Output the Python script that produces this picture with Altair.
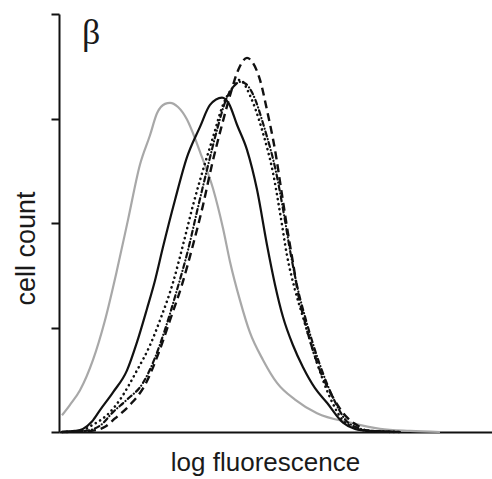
import altair as alt
import pandas as pd

# Histogram series (x = fluorescence channel, y = cell count)
gray_x = [3, 11, 21, 34, 46, 58, 69, 81, 91, 98, 106, 111, 119, 128, 136, 141, 154, 164, 171, 181, 191, 204, 218, 236, 258, 291, 321, 351, 381]
gray_y = [16, 26, 40, 69, 107, 155, 203, 256, 284, 305, 314, 315, 311, 299, 281, 268, 233, 195, 163, 126, 95, 69, 47, 31, 18, 9, 3, 1, 0]

solid_x = [3, 16, 24, 33, 41, 54, 68, 78, 88, 96, 104, 116, 128, 141, 151, 163, 170, 178, 188, 198, 208, 216, 224, 234, 244, 256, 268, 284, 296, 311, 341]
solid_y = [0, 1, 3, 10, 21, 38, 59, 86, 118, 145, 177, 222, 263, 292, 313, 320, 314, 294, 270, 232, 179, 141, 110, 83, 62, 42, 28, 9, 3, 1, 0]

dotted_x = [3, 21, 34, 41, 51, 61, 78, 91, 101, 114, 124, 134, 141, 154, 164, 174, 181, 191, 204, 214, 221, 228, 236, 244, 258, 271, 284, 296, 311, 341]
dotted_y = [0, 1, 7, 11, 19, 31, 59, 83, 107, 143, 179, 217, 241, 282, 313, 330, 337, 322, 286, 248, 210, 169, 136, 110, 66, 33, 11, 4, 1, 0]

dashdot_x = [3, 26, 41, 54, 68, 84, 96, 106, 118, 129, 138, 148, 158, 167, 175, 181, 187, 193, 206, 217, 225, 231, 239, 247, 261, 274, 287, 299, 313, 341]
dashdot_y = [0, 1, 6, 19, 31, 47, 71, 98, 136, 174, 211, 251, 289, 318, 331, 335, 333, 325, 289, 249, 208, 174, 136, 107, 64, 33, 11, 4, 1, 0]

dashed_x = [3, 31, 46, 56, 71, 86, 99, 111, 123, 134, 144, 153, 163, 171, 179, 188, 194, 201, 208, 216, 223, 229, 234, 239, 246, 259, 274, 289, 299, 309, 331]
dashed_y = [0, 1, 5, 13, 26, 45, 74, 107, 141, 179, 217, 256, 294, 322, 346, 358, 353, 337, 308, 270, 227, 190, 162, 133, 105, 64, 33, 13, 6, 1, 0]

y_ticks = [0, 100, 200, 300, 400]

x_scale = alt.Scale(domain=[0, 433], nice=False, zero=False)
y_scale = alt.Scale(domain=[0, 400], nice=False)

x_axis = alt.Axis(title="log fluorescence", ticks=False, labels=False, grid=False,
                  domainColor="#111111", domainWidth=2,
                  titleFont="Liberation Sans", titleFontSize=26, titleFontWeight="normal",
                  titleColor="#1a1a1a", titleX=206, titleY=38, titleBaseline="alphabetic",
                  titleAnchor="start", titleAlign="center")
y_axis = alt.Axis(title="cell count", values=y_ticks, labels=False, grid=False,
                  tickSize=8, tickWidth=2, tickColor="#111111",
                  domainColor="#111111", domainWidth=2,
                  titleFont="Liberation Sans", titleFontSize=27, titleFontWeight="normal",
                  titleColor="#1a1a1a", titleX=-25, titleY=234, titleBaseline="alphabetic",
                  titleAnchor="start", titleAlign="center")


def series(xs, ys):
    return pd.DataFrame({"x": xs, "y": ys})


def line(df, **kw):
    return alt.Chart(df).mark_line(interpolate="monotone", **kw).encode(
        x=alt.X("x:Q", scale=x_scale, axis=x_axis),
        y=alt.Y("y:Q", scale=y_scale, axis=y_axis),
    )


gray = line(series(gray_x, gray_y), color="#a8a8a8", strokeWidth=2.2)
solid = line(series(solid_x, solid_y), color="#111111", strokeWidth=2.2)
dotted = line(series(dotted_x, dotted_y), color="#111111", strokeWidth=2.6,
              strokeDash=[0.1, 5], strokeCap="round")
dashdot = line(series(dashdot_x, dashdot_y), color="#111111", strokeWidth=2.2,
               strokeDash=[5, 3, 0.1, 3], strokeCap="round")
dashed = line(series(dashed_x, dashed_y), color="#111111", strokeWidth=2.4,
              strokeDash=[8, 5])

beta = alt.Chart(pd.DataFrame({"t": ["β"]})).mark_text(
    font="Liberation Serif", fontSize=36, color="#1a1a1a", align="left", baseline="alphabetic"
).encode(text="t:N", x=alt.value(23), y=alt.value(30))

chart = alt.layer(gray, solid, dotted, dashdot, dashed, beta).properties(
    width=433, height=418,
    background="white",
    autosize=alt.AutoSizeParams(type="none"),
    padding={"left": 59, "top": 14, "right": 0, "bottom": 47},
).configure_view(stroke=None)

chart.save("out.html", embed_options={"renderer": "svg", "actions": False})
